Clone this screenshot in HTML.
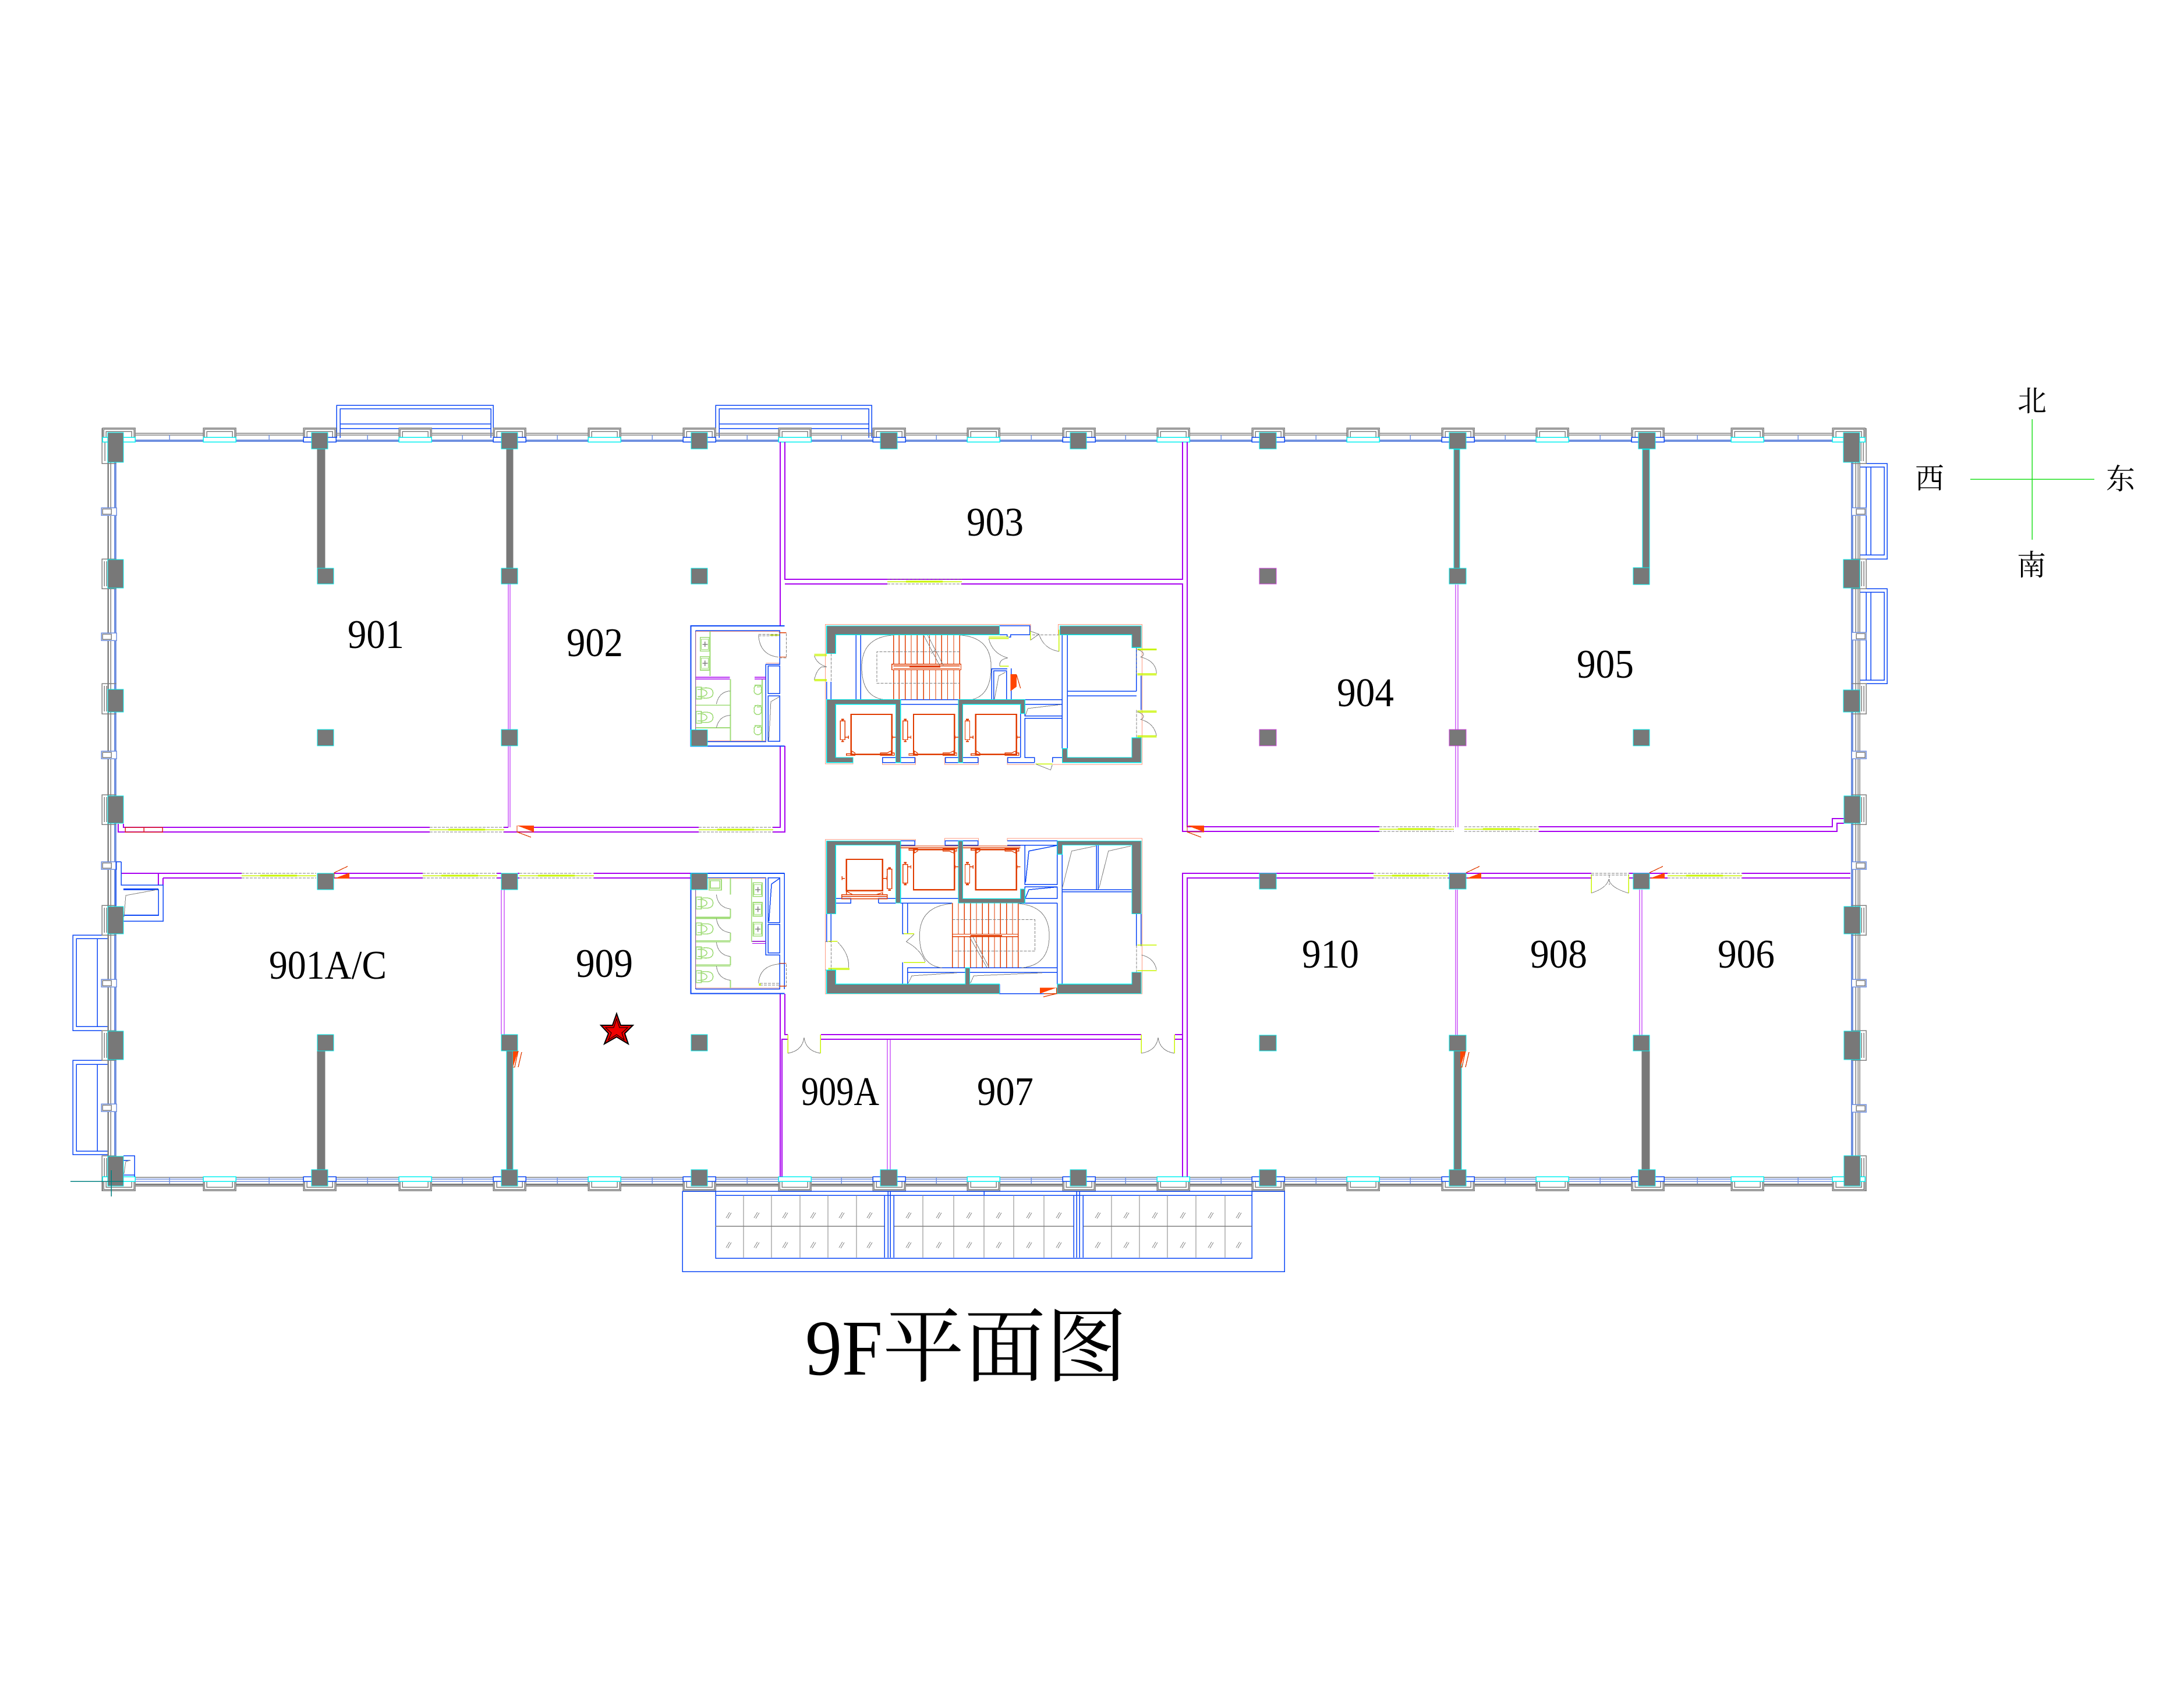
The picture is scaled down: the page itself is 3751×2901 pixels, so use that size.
<!DOCTYPE html>
<html><head><meta charset="utf-8"><title>9F平面图</title>
<style>
html,body{margin:0;padding:0;background:#fff;width:3751px;height:2901px;overflow:hidden}
svg{position:absolute;left:0;top:0;display:block}
svg *{vector-effect:non-scaling-stroke}
.r{fill:none;stroke-width:1.5;shape-rendering:crispEdges}
.b{stroke:#0a46f5;stroke-width:1.5}.b2{stroke:#0a46f5;stroke-width:2}
.p{stroke:#a800f0;stroke-width:2}.p1{stroke:#b000f5;stroke-width:1}
.g{stroke:#808080;stroke-width:1.5}.g2{stroke:#808080;stroke-width:3}.d{stroke:#808080;stroke-width:1;stroke-dasharray:5 2}
.c{stroke:#00f0f0;stroke-width:1.5}.s{stroke:#ff9a80;stroke-width:1}.gr{stroke:#a0dc78;stroke-width:1.6}.y{stroke:#c8f500;stroke-width:1.5}
.y3{stroke:#c8f500;stroke-width:3}.o{stroke:#e03c00;stroke-width:1.3}.o2{stroke:#e03c00;stroke-width:2.4}
.lb{stroke:#7090e0;stroke-width:1.5}
.k{fill:#787878;stroke:#00f0f0;stroke-width:1.2}
.w{fill:#fff}.f{fill:#ff4500;stroke:none}
.t{font-family:"Liberation Serif","Noto Serif CJK SC",serif;fill:#000;stroke:none;font-size:70px}
.z{font-family:"Noto Serif CJK SC","Liberation Serif",serif;fill:#000;stroke:none;font-size:50px}
</style></head><body>
<svg xmlns="http://www.w3.org/2000/svg" width="3751" height="2901" viewBox="0 0 3751 2901">
<defs>
<g id="pt"><path class="w" d="M0 751V735H56V751Z"/><path class="g" d="M0 751V735H56V751M2 751V737H54V751M6 751V741H50V751"/></g>
<rect id="ct" x="0" y="751" width="56" height="8" class="w c"/>
<rect id="bt" x="0" y="751" width="56" height="8" class="w b"/>
<g id="pb"><path class="w" d="M0 2029V2045H56V2029Z"/><path class="g" d="M0 2029V2045H56V2029M2 2029V2043H54V2029M6 2029V2039H50V2029"/></g>
<rect id="cb" x="0" y="2021" width="56" height="8" class="w c"/>
<rect id="bb" x="0" y="2021" width="56" height="8" class="w b"/>
<g id="ss"><rect class="w lb" x="0" y="0" width="26" height="13"/><rect class="g" x="2" y="2" width="15" height="9"/></g>
<g id="ssr"><rect class="w lb" x="0" y="0" width="25" height="13"/><rect class="g" x="8" y="2" width="15" height="9"/></g>
<g id="win"><path class="d" d="M0 0H128M0 8H128"/><path class="y" d="M0 4H128"/><path class="y" d="M32 4H95" style="stroke-width:3"/></g>
<g id="flagH"><path class="f" d="M0 0H29V11Z"/><path class="o" d="M0 0V11H29M0 11L24 20"/></g>
<g id="flagL"><path class="f" d="M0 10L26 0V10Z"/><path class="o" d="M0 10V0L23 -11"/></g>
<g id="flagV"><path class="f" d="M0 0H9L0 28Z"/><path class="o" d="M9 0L3 28H0M15 2L9 28"/></g>
<g id="hat"><path class="g" d="M-4 5L2 -5M-1 6L5 -4" style="stroke-width:1"/></g>
<g id="el">
<rect class="o" x="511" y="467" width="14" height="63"/><path class="o2" d="M514 462H522M514 536H522"/><path class="o" d="M518 462V467M518 530V536"/>
<path class="o" d="M525 522H535M535 516V527M677 522H667M667 516V527"/>
<rect class="o2" x="543" y="445" width="122" height="135"/>
<path class="o" d="M529 583H555V575L545 568V578H529ZM631 583H672V575H663V568L650 575H631Z"/>
</g>
<g id="wc"><rect class="gr" x="80" y="-20" width="15" height="40"/><path class="gr" d="M95 -16Q130 -22 130 0Q130 22 95 16M84 -12Q110 -14 112 0Q110 14 84 12"/></g>
<g id="sk"><rect class="gr" x="0" y="0" width="27" height="46"/><rect class="gr" x="3" y="6" width="21" height="34" style="stroke-width:1"/><path class="g" d="M6 23H22M14 14V32"/></g>
<g id="ur"><path class="gr" d="M-10 0A11 11 0 1 0 10 0A11 11 0 1 0 -10 0M-10 -15H10M-3 -10H6"/></g>
</defs>

<g class="r">
<!-- balconies -->
<path class="b" d="M578 752V696H847V752M584 752V702H843V752M584 728H843M584 736H843"/>
<path class="b" d="M1229 752V696H1497V752M1235 752V702H1492V752M1235 728H1492M1235 736H1492"/>
<rect class="b" x="125" y="1606" width="60" height="164"/><rect class="b" x="131" y="1612" width="54" height="151"/><path class="b" d="M167 1612V1763"/>
<rect class="b" x="125" y="1821" width="60" height="162"/><rect class="b" x="131" y="1828" width="54" height="149"/><path class="b" d="M167 1828V1977"/>
<path class="b" d="M3194 796H3241V960H3194M3194 802H3236V953H3194M3205 802V953M3213 802V953"/>
<path class="b" d="M3194 1011H3241V1174H3194M3194 1017H3236V1168H3194M3205 1017V1168M3213 1017V1168"/>

<!-- outer walls top -->
<path class="g" d="M212 744H3170M212 747H3170"/><rect x="212" y="755" width="2960" height="4" fill="#7090e0" stroke="none"/>
<path class="lb" d="M291 747V755M462 747V755M631 747V755M794 747V755M957 747V755M1120 747V755M1283 747V755M1445 747V755M1608 747V755M1771 747V755M1933 747V755M2097 747V755M2260 747V755M2422 747V755M2585 747V755M2748 747V755M2915 747V755M3088 747V755"/>
<!-- outer walls bottom -->
<path class="g" d="M212 2022H3170"/><path class="lb" d="M212 2025H3170M212 2029H3170"/><path class="g2" d="M212 2034.5H3170"/><path class="g" d="M212 2037H3170"/>
<path class="lb" d="M291 2022V2033M462 2022V2033M631 2022V2033M794 2022V2033M957 2022V2033M1120 2022V2033M1283 2022V2033M1445 2022V2033M1608 2022V2033M1771 2022V2033M1933 2022V2033M2097 2022V2033M2260 2022V2033M2422 2022V2033M2585 2022V2033M2748 2022V2033M2915 2022V2033M3088 2022V2033"/>
<!-- left wall -->
<path class="g" d="M185 794V1986M186 794V1986M190 794V1986"/><rect x="196" y="794" width="4" height="1192" fill="#7090e0" stroke="none"/>
<!-- right wall -->
<path class="g" d="M3187 794V1986M3191 794V1986M3194 794V1986"/><rect x="3179" y="794" width="4" height="1192" fill="#7090e0" stroke="none"/>

<!-- side pilasters -->
<g class="g">
<path d="M200 736H175V796H200M180 741V792M185 741V792"/>
<path d="M200 960H175V1011H200M179 964V1007M183 964V1007"/>
<path d="M200 1174H175V1226H200M179 1178V1222M183 1178V1222"/>
<path d="M200 1365H175V1416H200M179 1369V1412M183 1369V1412"/>
<path d="M200 1555H175V1606H200M179 1559V1602M183 1559V1602"/>
<path d="M200 1770H175V1821H200M179 1774V1817M183 1774V1817"/>
<path d="M200 1985H175V2045H232M179 1989V2041H228M183 1989V2037"/>
<path d="M3180 736H3205V796H3180M3200 741V792M3196 741V792"/>
<path d="M3180 960H3205V1011H3180M3201 964V1007M3197 964V1007"/>
<path d="M3180 1174H3205V1226H3180M3201 1178V1222M3197 1178V1222"/>
<path d="M3180 1365H3205V1416H3180M3201 1369V1412M3197 1369V1412"/>
<path d="M3180 1555H3205V1606H3180M3201 1559V1602M3197 1559V1602"/>
<path d="M3180 1770H3205V1821H3180M3201 1774V1817M3197 1774V1817"/>
<path d="M3180 1985H3205V2045H3147M3201 1989V2041H3151M3197 1989V2037"/>
</g>
<use href="#ss" x="174" y="872"/><use href="#ss" x="174" y="1087"/><use href="#ss" x="174" y="1290"/><use href="#ss" x="174" y="1480"/><use href="#ss" x="174" y="1682"/><use href="#ss" x="174" y="1896"/>
<use href="#ssr" x="3180" y="872"/><use href="#ssr" x="3180" y="1086"/><use href="#ssr" x="3180" y="1290"/><use href="#ssr" x="3180" y="1480"/><use href="#ssr" x="3180" y="1682"/><use href="#ssr" x="3180" y="1897"/>

<!-- facade pilasters top -->
<use href="#pt" x="176"/><use href="#pt" x="349"/><use href="#pt" x="521"/><use href="#pt" x="685"/><use href="#pt" x="847"/><use href="#pt" x="1010"/><use href="#pt" x="1173"/><use href="#pt" x="1337"/><use href="#pt" x="1499"/><use href="#pt" x="1661"/><use href="#pt" x="1825"/><use href="#pt" x="1987"/><use href="#pt" x="2150"/><use href="#pt" x="2313"/><use href="#pt" x="2476"/><use href="#pt" x="2638"/><use href="#pt" x="2802"/><use href="#pt" x="2973"/><use href="#pt" x="3147"/>
<use href="#ct" x="176"/><use href="#ct" x="349"/><use href="#bt" x="521"/><use href="#ct" x="685"/><use href="#bt" x="847"/><use href="#ct" x="1010"/><use href="#bt" x="1173"/><use href="#ct" x="1337"/><use href="#bt" x="1499"/><use href="#ct" x="1661"/><use href="#bt" x="1825"/><use href="#ct" x="1987"/><use href="#bt" x="2150"/><use href="#ct" x="2313"/><use href="#bt" x="2476"/><use href="#ct" x="2638"/><use href="#bt" x="2802"/><use href="#ct" x="2973"/><use href="#ct" x="3147"/>
<!-- facade pilasters bottom -->
<use href="#pb" x="176"/><use href="#pb" x="349"/><use href="#pb" x="521"/><use href="#pb" x="685"/><use href="#pb" x="847"/><use href="#pb" x="1010"/><use href="#pb" x="1173"/><use href="#pb" x="1337"/><use href="#pb" x="1499"/><use href="#pb" x="1661"/><use href="#pb" x="1825"/><use href="#pb" x="1987"/><use href="#pb" x="2150"/><use href="#pb" x="2313"/><use href="#pb" x="2476"/><use href="#pb" x="2638"/><use href="#pb" x="2802"/><use href="#pb" x="2973"/><use href="#pb" x="3147"/>
<use href="#cb" x="176"/><use href="#cb" x="349"/><use href="#bb" x="521"/><use href="#cb" x="685"/><use href="#bb" x="847"/><use href="#cb" x="1010"/><use href="#bb" x="1173"/><use href="#cb" x="1337"/><use href="#bb" x="1499"/><use href="#cb" x="1661"/><use href="#bb" x="1825"/><use href="#cb" x="1987"/><use href="#bb" x="2150"/><use href="#cb" x="2313"/><use href="#bb" x="2476"/><use href="#cb" x="2638"/><use href="#bb" x="2802"/><use href="#cb" x="2973"/><use href="#cb" x="3147"/>

<!-- bottom balcony -->
<rect class="b" x="1172" y="2046" width="1034" height="138"/>
<rect class="b" x="1229" y="2053" width="921" height="108"/>
<path class="b" d="M1229 2046H2150M1229 2046V2053M2150 2046V2053M1690 2046V2053"/>
<path class="g" style="stroke-width:1" d="M1277 2053V2160M1325 2053V2160M1374 2053V2160M1422 2053V2160M1471 2053V2160M1585 2053V2160M1638 2053V2160M1690 2053V2160M1741 2053V2160M1793 2053V2160M1909 2053V2160M1957 2053V2160M2005 2053V2160M2054 2053V2160M2104 2053V2160"/>
<path class="g" d="M1229 2106H1519M1535 2106H1844M1860 2106H2150"/>
<path class="b" d="M1519 2053V2160M1535 2053V2160M1525 2046V2160M1529 2046V2160M1844 2053V2160M1860 2053V2160M1849 2046V2160M1854 2046V2160"/>
<use href="#hat" x="1251" y="2087"/><use href="#hat" x="1299" y="2087"/><use href="#hat" x="1348" y="2087"/><use href="#hat" x="1396" y="2087"/><use href="#hat" x="1445" y="2087"/><use href="#hat" x="1493" y="2087"/><use href="#hat" x="1560" y="2087"/><use href="#hat" x="1612" y="2087"/><use href="#hat" x="1664" y="2087"/><use href="#hat" x="1715" y="2087"/><use href="#hat" x="1767" y="2087"/><use href="#hat" x="1818" y="2087"/><use href="#hat" x="1885" y="2087"/><use href="#hat" x="1934" y="2087"/><use href="#hat" x="1983" y="2087"/><use href="#hat" x="2031" y="2087"/><use href="#hat" x="2079" y="2087"/><use href="#hat" x="2127" y="2087"/>
<use href="#hat" x="1251" y="2138"/><use href="#hat" x="1299" y="2138"/><use href="#hat" x="1348" y="2138"/><use href="#hat" x="1396" y="2138"/><use href="#hat" x="1445" y="2138"/><use href="#hat" x="1493" y="2138"/><use href="#hat" x="1560" y="2138"/><use href="#hat" x="1612" y="2138"/><use href="#hat" x="1664" y="2138"/><use href="#hat" x="1715" y="2138"/><use href="#hat" x="1767" y="2138"/><use href="#hat" x="1818" y="2138"/><use href="#hat" x="1885" y="2138"/><use href="#hat" x="1934" y="2138"/><use href="#hat" x="1983" y="2138"/><use href="#hat" x="2031" y="2138"/><use href="#hat" x="2079" y="2138"/><use href="#hat" x="2127" y="2138"/>

<!-- purple partitions -->
<g class="p">
<path d="M212 1415V1421H738M203 1415V1429H738M865 1429H1200M865 1421H873M917 1421H1200M1327 1421H1340V1281M1327 1429H1348V1281"/>
<path d="M1340 759V1075M1348 759V995H2031V759M1348 1003H1524M1651 1003H2031V1428H2369M2039 759V1420H2369M2643 1420H3147V1406H3167M2643 1428H3155V1414H3167"/>
<path d="M208 1500H415M573 1500H726M573 1508H726M280 1508H415M272 1500V1520M280 1508V1520M853 1500H861M853 1508H861M889 1500H892M889 1508H892M1020 1500H1187M1020 1508H1187"/>
<path d="M2031 2021V1500H2359M2039 2021V1508H2359M2487 1500H2733M2487 1508H2733M2798 1500H2864M2798 1508H2864M2992 1500H3178M2992 1508H3178"/>
<path d="M1340 1707V2021M1348 1707V1777H1353M1353 1785H1343V2021M1410 1777H1960M1410 1785H1960M2031 1777H2018M2031 1785H2018"/>
</g>
<g class="p1">
<path d="M873 1003V1421M876 1003V1421M861 1528V1778M866 1528V1778M2500 1004V1421M2504 1004V1421M2500 1528V1778M2503 1528V1778M2816 1528V1778M2820 1528V1778M1524 1785V2009M1529 1785V2009"/>
</g>
<path class="r" style="stroke:#e02020" d="M215 1421H279V1429H215ZM247 1421V1429"/>

<!-- windows -->
<use href="#win" x="738" y="1421"/><use href="#win" x="1200" y="1421"/><use href="#win" x="2369" y="1420"/><use href="#win" x="2515" y="1420"/>
<use href="#win" x="415" y="1500"/><use href="#win" x="726" y="1500"/><use href="#win" x="892" y="1500"/><use href="#win" x="2359" y="1500"/><use href="#win" x="2864" y="1500"/>
<use href="#win" x="1524" y="995"/>

<!-- flags -->
<use href="#flagH" x="888" y="1418"/><use href="#flagH" x="2039" y="1418"/>
<use href="#flagL" x="574" y="1499"/><use href="#flagL" x="2518" y="1499"/><use href="#flagL" x="2833" y="1499"/>

<!-- corridor doors -->
<path class="y" d="M1353 1777V1809M1409 1777V1809M1960 1777V1809M2017 1777V1809M2733 1502V1534M2797 1502V1534"/>
<path class="g" d="M1353 1809Q1378 1805 1381 1782Q1384 1805 1409 1809M1960 1809Q1986 1805 1989 1782Q1992 1805 2017 1809M2733 1534Q2760 1525 2763 1510Q2766 1525 2797 1534" style="stroke-width:1"/>
<path class="d" d="M2733 1500H2798M2733 1503H2798M2764 1503V1520"/>

<!-- left small rooms -->
<path class="b" d="M208 1480V1520H280V1582H212M199 1480H208M199 1480V1556M212 1572H272V1528H212"/>
<path class="b2" d="M212 1527H272M212 1572H272"/>
<path class="g" d="M213 1575L216 1538L270 1528" style="stroke-width:1"/>
<path class="b" d="M212 1985H231V2021M212 1993H224M212 2018H231"/>
<path class="g" d="M213 2016L216 1995L224 1993" style="stroke-width:1"/>

<!-- structural walls -->
<rect class="k" x="545" y="771" width="13" height="205" style="stroke:#787878"/>
<rect class="k" x="870" y="771" width="11" height="205" style="stroke:#787878"/>
<rect class="k" x="2497" y="772" width="10" height="204"/>
<rect class="k" x="2821" y="772" width="12" height="204"/>
<rect class="k" x="545" y="1805" width="13" height="204" style="stroke:#787878"/>
<rect class="k" x="870" y="1805" width="11" height="204"/>
<rect class="k" x="2497" y="1805" width="13" height="204"/>
<rect class="k" x="2820" y="1805" width="13" height="204" style="stroke:#787878"/>
<use href="#flagV" x="881" y="1805"/><use href="#flagV" x="2508" y="1805"/>

<!-- columns -->
<g class="k">
<rect x="185" y="743" width="27" height="51"/><rect x="535" y="743" width="28" height="28"/><rect x="861" y="743" width="28" height="28"/><rect x="1187" y="743" width="28" height="28"/><rect x="1512" y="743" width="29" height="28"/><rect x="1838" y="743" width="28" height="28"/><rect x="2163" y="743" width="29" height="28"/><rect x="2489" y="743" width="29" height="28"/><rect x="2814" y="743" width="29" height="28"/><rect x="3166" y="743" width="28" height="51"/>
<rect x="185" y="961" width="27" height="49"/><rect x="545" y="976" width="28" height="27"/><rect x="861" y="976" width="28" height="27"/><rect x="1187" y="976" width="28" height="27"/><rect x="2163" y="976" width="29" height="27" style="stroke:#d040e0"/><rect x="2489" y="976" width="29" height="27"/><rect x="2805" y="975" width="28" height="29"/><rect x="3166" y="961" width="28" height="49"/>
<rect x="185" y="1184" width="27" height="39"/><rect x="545" y="1253" width="28" height="28"/><rect x="861" y="1253" width="28" height="28"/><rect x="2163" y="1253" width="29" height="28" style="stroke:#d040e0"/><rect x="2489" y="1253" width="29" height="28" style="stroke:#d040e0"/><rect x="2805" y="1253" width="28" height="28"/><rect x="3166" y="1185" width="28" height="38"/>
<rect x="185" y="1367" width="27" height="47"/><rect x="3167" y="1367" width="28" height="47"/>
<rect x="185" y="1557" width="27" height="47"/><rect x="545" y="1500" width="28" height="28"/><rect x="861" y="1500" width="28" height="28"/><rect x="2163" y="1500" width="29" height="27"/><rect x="2489" y="1500" width="29" height="27"/><rect x="2805" y="1500" width="28" height="27"/><rect x="3167" y="1557" width="28" height="47"/>
<rect x="185" y="1771" width="27" height="49"/><rect x="545" y="1777" width="28" height="28"/><rect x="861" y="1777" width="28" height="28"/><rect x="1187" y="1777" width="28" height="28"/><rect x="2163" y="1778" width="29" height="27"/><rect x="2489" y="1778" width="29" height="27"/><rect x="2805" y="1778" width="28" height="27"/><rect x="3167" y="1771" width="28" height="49"/>
<rect x="185" y="1986" width="27" height="51"/><rect x="535" y="2009" width="28" height="28"/><rect x="861" y="2009" width="28" height="28"/><rect x="1187" y="2009" width="28" height="28"/><rect x="1512" y="2009" width="29" height="28"/><rect x="1838" y="2009" width="28" height="28"/><rect x="2163" y="2009" width="29" height="28"/><rect x="2489" y="2009" width="29" height="28"/><rect x="2814" y="2009" width="29" height="28"/><rect x="3167" y="1985" width="28" height="52"/>
</g>
<path d="M121 2029H212M191 2010V2055" stroke="#008080" fill="none"/>

<!-- CORE (coordinates in zoom frame) -->
<g transform="translate(1150 1000) scale(.57403 .5102)">
<!-- upper toilet -->
<path class="b2" d="M344 147H64V552H344"/>
<path class="b" d="M78 163H330V252M78 163V497M113 537H288V277H330V252M330 163V175"/>
<path class="s" d="M78 166H328M78 166V497M113 534H288M288 272H328"/>
<rect class="b" x="295" y="282" width="35" height="93"/><rect class="b" x="295" y="383" width="35" height="153"/>
<path class="g" style="stroke-width:1" d="M297 532L303 402L328 386"/>
<use href="#sk" x="92" y="186"/><use href="#sk" x="92" y="250"/>
<path class="gr" d="M121 166V316M182 326V535M78 414H182M78 490H182M277 326V535"/>
<path class="p" d="M78 320H180M78 326H180M254 320H288M254 326H288" style="stroke-width:1.3"/>
<use href="#wc" x="0" y="373"/><use href="#wc" x="0" y="455"/>
<path class="g" style="stroke-width:1" d="M182 366Q148 368 140 410M182 448Q148 450 140 490"/>
<use href="#ur" x="264" y="362"/><use href="#ur" x="264" y="430"/><use href="#ur" x="264" y="498"/>
<path class="d" d="M266 175H330M266 180H330M327 170H349V255H327"/><path class="g" style="stroke-width:1" d="M266 178Q270 245 325 252"/>
<path class="y" d="M300 178H328"/><path class="o" d="M328 170H349M328 252H349"/>
<path class="k" d="M64 497H113V552H64Z"/>

<!-- lower toilet -->
<path class="b2" d="M344 980H64V1385H344"/>
<path class="b" d="M78 1370H330V1283H344V1370M78 1035V1370M288 995V1255H330V1283M113 995H288M344 980V1283"/>
<path class="s" d="M113 997H288M78 1036V1366H328"/>
<rect class="b" x="295" y="995" width="35" height="151"/><rect class="b" x="295" y="1152" width="35" height="96"/>
<path class="b" d="M297 1142L305 1016L328 998"/>
<use href="#sk" x="250" y="1012"/><use href="#sk" x="250" y="1078"/><use href="#sk" x="250" y="1145"/>
<path class="gr" d="M245 996V1210H288M118 1000H155V1036H118ZM122 1005H150V1030H122ZM182 996V1052M78 1128H182M78 1207H182M78 1288H182M182 1100V1130M182 1180V1207M182 1260V1290M182 1340V1366"/>
<path class="gr" d="M78 1132H182M78 1211H182M78 1292H182"/>
<path class="p" d="M247 1209H288M247 1216H288" style="stroke-width:1.3"/>
<use href="#wc" x="0" y="1080"/><use href="#wc" x="0" y="1167"/><use href="#wc" x="0" y="1248"/><use href="#wc" x="0" y="1328"/>
<path class="g" style="stroke-width:1" d="M140 1052Q145 1095 182 1100M140 1132Q145 1175 182 1180M140 1212Q145 1255 182 1260M140 1292Q145 1335 182 1340"/>
<path class="d" d="M327 1283H349V1360H327M270 1350H330M270 1356H330"/><path class="g" style="stroke-width:1" d="M330 1285Q270 1290 266 1350"/>
<path class="y3" d="M270 1350V1358"/><path class="o" d="M328 1283H349M328 1360H349"/>
<path class="k" d="M64 980H113V1035H64Z"/>

<!-- upper core -->
<path class="s" d="M1080 165V142H466V612H549V590M637 590V613H736V590M823 590V613H924V590M1010 590V613H1092M1145 613H1414V142H1163V175"/>
<path class="b" d="M558 177V395M572 177V395M483 335V395M470 335V395"/>
<path class="b" d="M987 147H1078V177H1020V185H1010V177H987"/>
<path class="b" d="M1175 177V560M1190 177V560M1190 367H1397M1190 383H1397M1397 177V367M691 411H864M691 395H864M1411 315V430"/>
<path class="b" d="M1022 290V395H1175M964 395V292H1010M970 395V298H1008V395"/>
<path class="b" d="M1063 411H1175V450H1063V411M1063 458H1175V560M1063 458V590H1092V607M1050 442V590M1050 590H1012V607H1092M1146 607V590H1175"/>
<rect class="b" x="637" y="590" width="97" height="17"/><rect class="b" x="825" y="590" width="98" height="17"/>
<path class="o" d="M670 177V395M687 177V276M705 177V276M723 177V276M741 177V276M760 177V276M778 177V276M796 177V276M814 177V276M832 177V276M850 177V276M868 177V395M687 295V395M705 295V395M723 295V395M741 295V395M760 295V395M778 295V395M796 295V395M814 295V395M832 295V395M850 295V395"/>
<rect class="w o" x="665" y="276" width="207" height="19"/><path class="o" d="M670 282H868M670 291H868"/><path class="o2" d="M718 285H810"/>
<path class="d" d="M868 234H620V340H868"/>
<path class="g" style="stroke-width:1" d="M670 178Q575 185 575 285Q575 385 640 395M868 178Q962 185 962 285Q962 380 905 395"/>
<path class="g" style="stroke-width:1" d="M760 178L808 280M772 178L820 282M783 240L795 228"/>
<path class="y" d="M433 243H470M433 247H470M433 328H470M433 332H470"/><path class="g" style="stroke-width:1" d="M433 247Q440 275 470 285H455Q440 295 433 328"/><path class="d" d="M483 240V335"/>
<path class="y" d="M955 185H1015M955 190H1015M988 283H1015M1080 165V195M1165 160V233"/><path class="g" style="stroke-width:1" d="M955 190Q965 240 1012 255Q985 260 988 282M1080 195L1105 175L1080 165M1105 175Q1120 225 1165 233"/><path class="d" d="M1085 177H1165"/>
<path class="g" style="stroke-width:1" d="M972 395L985 315L1005 303M1065 448L1072 425L1170 412"/>
<path class="f" d="M1020 310H1038V352L1020 367Z"/><path class="o" d="M1038 312L1050 357"/>
<path class="y" d="M1095 612H1145"/><path class="g" style="stroke-width:1" d="M1095 612L1140 632L1145 615"/>
<path class="y" d="M1400 225H1457M1400 228H1457M1400 308H1457M1400 312H1457M1400 434H1457M1400 438H1457M1400 517H1457M1400 521H1457"/>
<path class="g" style="stroke-width:1" d="M1457 307Q1455 265 1410 252Q1430 240 1400 226M1457 517Q1450 475 1410 462Q1430 450 1400 436"/><path class="d" d="M1397 220V310M1397 430V524"/>
<path class="k" d="M470 147H987V177H497V240H470Z"/><path class="k" d="M1168 147H1411V220H1383V177H1168Z"/><path class="k" d="M1175 607V560H1190V590H1383V524H1411V607Z"/><path class="k" d="M470 395H691V607H677V411H497V590H549V607H470Z"/><path class="k" d="M864 395H1063V442H1050V411H877V607H864Z"/>
<use href="#el" x="0"/><use href="#el" x="187"/><use href="#el" x="373"/>

<!-- lower core -->
<path class="s" d="M736 871V866H466V1386H1414V862H1010V871M823 871V862H924V871"/>
<path class="b" d="M691 871H734V885H691M824 871H923V885H824ZM1010 871H1160V885H1010M1063 885V1018H1160V885M1063 1026H1160V1065H1063ZM1175 916V1353M1160 1080V1353M1175 1035H1383M1175 1042H1383M1277 885V1035M1283 885V1035"/>
<path class="b" d="M497 1065H542V1080H497M625 1080V1065H677M625 1080H677M691 1065H864M697 1080V1183H712V1080M691 1080H846M1043 1080H1160M697 1280V1353M712 1298V1353M712 1298H1160M712 1314H885M898 1314H1160M987 1353V1385H1160M1397 1116V1225M1411 1116V1225M470 1116V1210M483 1116V1210"/>
<path class="b" d="M1065 1010L1075 905L1160 886M1065 1062L1075 1035L1160 1026"/>
<path class="g" style="stroke-width:1" d="M1175 1030L1203 905L1275 888M1285 1030L1313 905L1380 888M714 1350L725 1325L860 1315M900 1350L910 1325L1115 1315"/>
<path class="o" d="M846 1080V1298M864 1080V1185M882 1080V1185M900 1080V1185M918 1080V1185M936 1080V1185M954 1080V1185M972 1080V1185M990 1080V1185M1008 1080V1185M1026 1080V1185M1043 1080V1298M864 1193V1298M882 1193V1298M900 1193V1298M918 1193V1298M936 1193V1298M954 1193V1298M972 1193V1298M990 1193V1298M1008 1193V1298M1026 1193V1298"/>
<path class="o" d="M846 1185H1043M846 1193H1043"/><path class="o2" d="M900 1190H995"/>
<path class="d" d="M846 1136H1093V1242H846"/>
<path class="g" style="stroke-width:1" d="M846 1082Q748 1090 748 1190Q748 1290 815 1298M1043 1082Q1136 1090 1136 1190Q1136 1290 1053 1298M898 1195L950 1298M908 1195L955 1295"/>
<path class="y" d="M700 1183H732M700 1280H765M475 1209H503M475 1300H538M1400 1222H1457M1400 1308H1457M475 1304H538"/>
<path class="g" style="stroke-width:1" d="M732 1185L708 1210Q750 1235 765 1278M503 1212Q538 1250 536 1298M1457 1305Q1450 1265 1412 1255"/>
<path class="d" d="M466 1210H483V1305H466M1397 1222V1312"/>
<path class="f" d="M1108 1365H1158L1108 1385Z"/><path class="o" d="M1158 1365V1385H1120M1158 1385L1118 1396"/>
<path class="k" d="M470 871H691V1080H677V885H497V1116H470Z"/><path class="k" d="M864 871H877V1065H1050V1033H1063V1080H864Z"/><path class="k" d="M1160 871H1411V1116H1383V885H1175V916H1160Z"/><path class="k" d="M470 1306H497V1353H885V1298H898V1353H987V1385H470Z"/><path class="k" d="M1160 1353H1383V1313H1411V1385H1160Z"/>
<use href="#el" transform="translate(187 1480) scale(1 -1)"/><use href="#el" transform="translate(373 1480) scale(1 -1)"/>
<rect class="o2" x="529" y="933" width="108" height="105"/>
<path class="o" d="M516 997H524M516 990V1003M637 997H650M650 990V1003"/><rect class="o" x="651" y="966" width="14" height="66"/><path class="o2" d="M654 962H662M654 1036H662"/>
<path class="o" d="M515 1052H651V1066H515ZM515 1058H651M529 1052V1040L548 1052M618 1052L637 1045V1052"/>
<path class="o" d="M691 888H864M691 894H864M877 888H1050M877 894H1050"/>
</g>

<!-- compass -->
<path d="M3384 823H3597M3490 720V927" stroke="#20e020" fill="none"/>

<!-- star -->
<path d="M1059 1741L1066 1761L1087 1761L1073 1775L1079 1793L1059 1781L1038 1793L1045 1775L1032 1761L1052 1761Z" fill="#f00000" stroke="#000" stroke-width="2" style="shape-rendering:auto"/>
<path d="M1059 1750L1064 1765L1078 1765L1068 1774L1072 1786L1059 1777L1045 1786L1050 1774L1040 1765L1054 1765Z" fill="#f00000" stroke="#000" stroke-width="1" style="shape-rendering:auto"/>
</g>

<!-- labels -->
<text class="t" x="597" y="1113" textLength="97" lengthAdjust="spacingAndGlyphs">901</text>
<text class="t" x="973" y="1127" textLength="97" lengthAdjust="spacingAndGlyphs">902</text>
<text class="t" x="1660" y="920" textLength="98" lengthAdjust="spacingAndGlyphs">903</text>
<text class="t" x="2296" y="1213" textLength="98" lengthAdjust="spacingAndGlyphs">904</text>
<text class="t" x="2708" y="1164" textLength="98" lengthAdjust="spacingAndGlyphs">905</text>
<text class="t" x="462" y="1681" textLength="202" lengthAdjust="spacingAndGlyphs">901A/C</text>
<text class="t" x="989" y="1678" textLength="98" lengthAdjust="spacingAndGlyphs">909</text>
<text class="t" x="1376" y="1898" textLength="134" lengthAdjust="spacingAndGlyphs">909A</text>
<text class="t" x="1678" y="1898" textLength="97" lengthAdjust="spacingAndGlyphs">907</text>
<text class="t" x="2236" y="1662" textLength="98" lengthAdjust="spacingAndGlyphs">910</text>
<text class="t" x="2628" y="1662" textLength="98" lengthAdjust="spacingAndGlyphs">908</text>
<text class="t" x="2950" y="1662" textLength="98" lengthAdjust="spacingAndGlyphs">906</text>
<text class="z" x="3465" y="706">北</text>
<text class="z" x="3289" y="839">西</text>
<text class="z" x="3617" y="840">东</text>
<text class="z" x="3464" y="988">南</text>
<text class="t" x="1383" y="2361" style="font-size:136px" textLength="133" lengthAdjust="spacingAndGlyphs">9F</text>
<text class="z" x="1516" y="2362" style="font-size:140px">平面图</text>
</svg>
</body></html>
